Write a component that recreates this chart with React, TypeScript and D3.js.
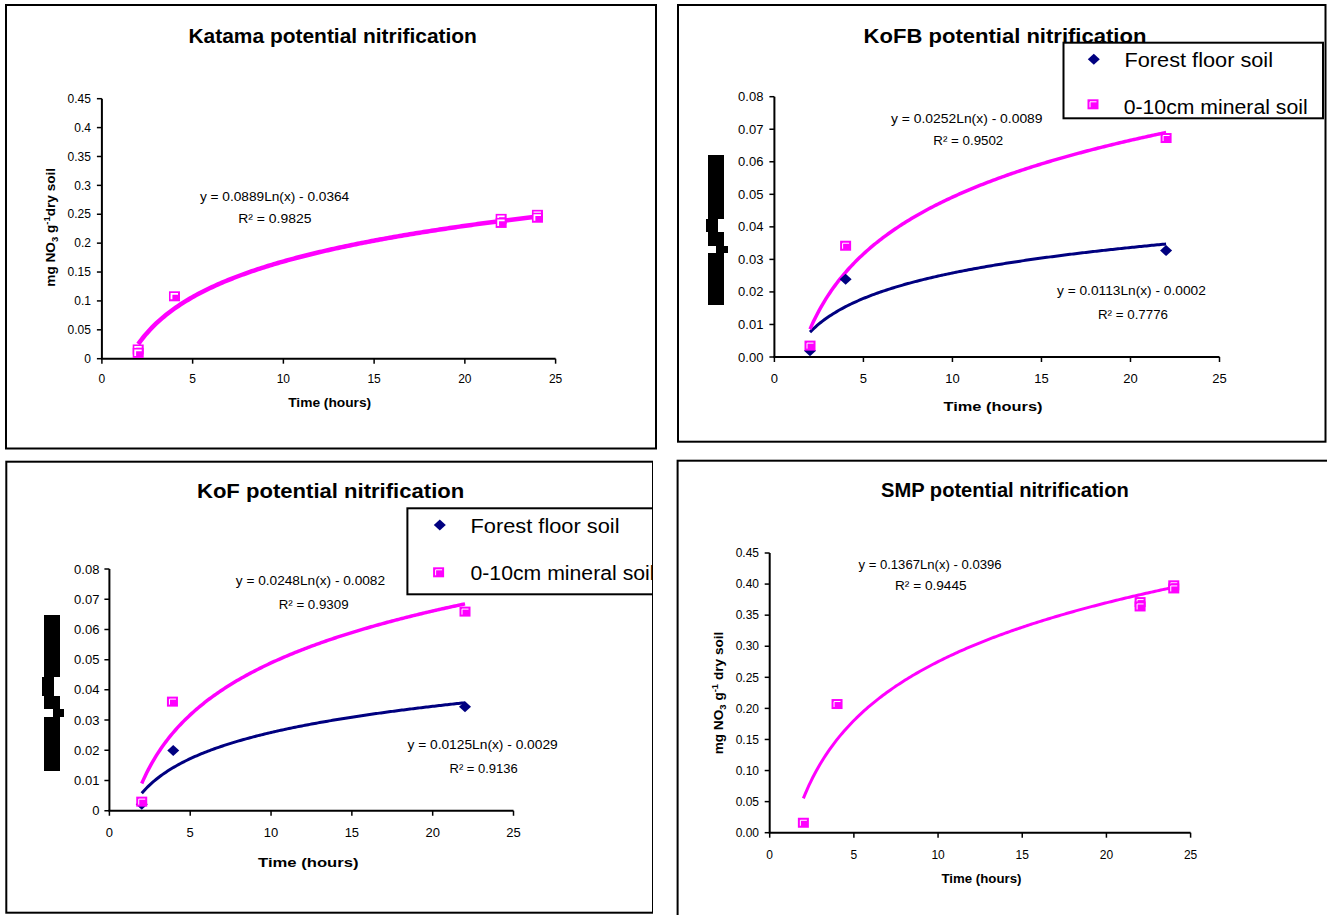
import React from 'react';
import * as d3 from 'd3';

// ---------------- data ----------------
const xTicks = [0, 5, 10, 15, 20, 25];
const xTickLabels = ['0', '5', '10', '15', '20', '25'];

const katamaHours = [2, 2, 4, 22, 22, 24, 24];
const katamaMineral = [0.016, 0.010, 0.108, 0.242, 0.235, 0.249, 0.244];
const katamaTrend = [0.0889, -0.0364];
const katamaYTicks = [0, 0.05, 0.1, 0.15, 0.2, 0.25, 0.3, 0.35, 0.4, 0.45];
const katamaYLabels = ['0', '0.05', '0.1', '0.15', '0.2', '0.25', '0.3', '0.35', '0.4', '0.45'];

const kofbHours = [2, 4, 22];
const kofbForest = [0.0019, 0.0239, 0.0327];
const kofbMineral = [0.0035, 0.0342, 0.0673];
const kofbForestTrend = [0.0113, -0.0002];
const kofbMineralTrend = [0.0252, -0.0089];
const smallYTicks = [0, 0.01, 0.02, 0.03, 0.04, 0.05, 0.06, 0.07, 0.08];
const kofbYLabels = ['0.00', '0.01', '0.02', '0.03', '0.04', '0.05', '0.06', '0.07', '0.08'];

const kofForestHours = [2, 3.95, 22];
const kofForest = [0.0021, 0.0199, 0.0344];
const kofMineralHours = [2, 3.9, 22];
const kofMineral = [0.0030, 0.0361, 0.0659];
const kofForestTrend = [0.0125, -0.0029];
const kofMineralTrend = [0.0248, -0.0082];
const kofYLabels = ['0', '0.01', '0.02', '0.03', '0.04', '0.05', '0.06', '0.07', '0.08'];

const smpHours = [2, 4, 22, 22, 24, 24];
const smpMineral = [0.016, 0.207, 0.371, 0.364, 0.398, 0.393];
const smpTrend = [0.1367, -0.0396];
const smpYTicks = [0, 0.05, 0.1, 0.15, 0.2, 0.25, 0.3, 0.35, 0.4, 0.45];
const smpYLabels = ['0.00', '0.05', '0.10', '0.15', '0.20', '0.25', '0.30', '0.35', '0.40', '0.45'];

const legendLabels = ['Forest floor soil', '0-10cm mineral soil'];

// ---------------- styling ----------------
const FONT = "'Liberation Sans', Arial, Helvetica, sans-serif";
const MAGENTA = '#FF00FF';
const NAVY = '#000080';

type Series = {
  xs: number[]; ys: number[]; marker: 'square' | 'diamond'; color: string;
  trend: number[]; from: number; to: number; width: number; innerW: number;
};
type Label = { t: string; cx: number; cy: number; len: number; fs: number };

type PanelCfg = {
  frame: { x: number; y: number; w: number; h: number };
  clip?: boolean;
  title: Label;
  plot: { left: number; right: number; top: number; bottom: number };
  yMax: number;
  yTicks: number[];
  yLabels: string[];
  tickFs: number;
  yLabelGap: number;
  xLabelDy: number;
  xTitle: Label;
  yTitle?: { cx: number; cy: number; len: number; fs: number; spaceBeforeDry: boolean };
  blob?: number[][];
  eq: Label[];
  legend?: { box: { x: number; y: number; w: number; h: number }; items: { mx: number; my: number; tx: number; ty: number; len: number }[] };
  series: Series[];
};

const eqFs = 13.5;

const panels: PanelCfg[] = [
  {
    frame: { x: 6, y: 5, w: 650, h: 443.5 },
    title: { t: 'Katama potential nitrification', cx: 332.7, cy: 36, len: 288.4, fs: 20 },
    plot: { left: 101.9, right: 555.6, top: 98.7, bottom: 358.7 },
    yMax: 0.45, yTicks: katamaYTicks, yLabels: katamaYLabels, tickFs: 12, yLabelGap: 11, xLabelDy: 20.3,
    xTitle: { t: 'Time (hours)', cx: 329.7, cy: 402.3, len: 83, fs: 13 },
    yTitle: { cx: 50.5, cy: 227.3, len: 118.7, fs: 12.5, spaceBeforeDry: false },
    eq: [
      { t: 'y = 0.0889Ln(x) - 0.0364', cx: 274.6, cy: 196.7, len: 149.3, fs: 12.5 },
      { t: 'R² = 0.9825', cx: 274.8, cy: 218.3, len: 73.2, fs: 12.5 },
    ],
    series: [
      { xs: katamaHours, ys: katamaMineral, marker: 'square', color: MAGENTA, trend: katamaTrend, from: 2, to: 24, width: 4.5, innerW: 1.8 },
    ],
  },
  {
    frame: { x: 678, y: 5, w: 647.5, h: 436.7 },
    title: { t: 'KoFB potential nitrification', cx: 1005, cy: 36, len: 282.8, fs: 20 },
    plot: { left: 774.4, right: 1219.5, top: 96.7, bottom: 357 },
    yMax: 0.08, yTicks: smallYTicks, yLabels: kofbYLabels, tickFs: 13, yLabelGap: 11, xLabelDy: 21,
    xTitle: { t: 'Time (hours)', cx: 993, cy: 406, len: 99, fs: 13 },
    blob: [[708, 155, 16, 64], [706, 219, 12, 13], [708, 232, 16, 14], [716, 246, 12, 7], [708, 253, 16, 52]],
    eq: [
      { t: 'y = 0.0252Ln(x) - 0.0089', cx: 966.8, cy: 118.3, len: 151.5, fs: eqFs },
      { t: 'R² = 0.9502', cx: 968.3, cy: 140, len: 69.9, fs: eqFs },
      { t: 'y = 0.0113Ln(x) - 0.0002', cx: 1131.4, cy: 290.7, len: 148.8, fs: eqFs },
      { t: 'R² = 0.7776', cx: 1133, cy: 314, len: 70, fs: eqFs },
    ],
    legend: {
      box: { x: 1063.5, y: 42.7, w: 259.5, h: 75.6 },
      items: [
        { mx: 1093.8, my: 59.3, tx: 1124.5, ty: 60, len: 148.5 },
        { mx: 1093, my: 104.3, tx: 1123.7, ty: 106.7, len: 184 },
      ],
    },
    series: [
      { xs: kofbHours, ys: kofbForest, marker: 'diamond', color: NAVY, trend: kofbForestTrend, from: 2, to: 22, width: 3, innerW: 1 },
      { xs: kofbHours, ys: kofbMineral, marker: 'square', color: MAGENTA, trend: kofbMineralTrend, from: 2, to: 22, width: 3.5, innerW: 1 },
    ],
  },
  {
    frame: { x: 6.3, y: 461.7, w: 646.7, h: 451 },
    clip: true,
    title: { t: 'KoF potential nitrification', cx: 330.6, cy: 491, len: 267.3, fs: 20 },
    plot: { left: 109.4, right: 513.5, top: 569, bottom: 810.7 },
    yMax: 0.08, yTicks: smallYTicks, yLabels: kofYLabels, tickFs: 13, yLabelGap: 10, xLabelDy: 21.6,
    xTitle: { t: 'Time (hours)', cx: 308.3, cy: 862.3, len: 100.6, fs: 13 },
    blob: [[44, 615, 16, 62], [42, 677, 12, 19], [44, 696, 16, 13], [53, 709, 11, 8], [44, 717, 16, 54]],
    eq: [
      { t: 'y = 0.0248Ln(x) - 0.0082', cx: 310.4, cy: 580.3, len: 149.3, fs: eqFs },
      { t: 'R² = 0.9309', cx: 313.6, cy: 604, len: 69.9, fs: eqFs },
      { t: 'y = 0.0125Ln(x) - 0.0029', cx: 482.6, cy: 744.3, len: 150.3, fs: eqFs },
      { t: 'R² = 0.9136', cx: 483.6, cy: 768.3, len: 68.2, fs: eqFs },
    ],
    legend: {
      box: { x: 407.4, y: 508.3, w: 245.6, h: 86 },
      items: [
        { mx: 439.8, my: 525, tx: 470.5, ty: 525.7, len: 149 },
        { mx: 438.6, my: 572.3, tx: 470.5, ty: 573.3, len: 184 },
      ],
    },
    series: [
      { xs: kofForestHours, ys: kofForest, marker: 'diamond', color: NAVY, trend: kofForestTrend, from: 2, to: 22, width: 3, innerW: 1 },
      { xs: kofMineralHours, ys: kofMineral, marker: 'square', color: MAGENTA, trend: kofMineralTrend, from: 2, to: 22, width: 3.5, innerW: 1 },
    ],
  },
  {
    frame: { x: 677.6, y: 460.7, w: 670, h: 470 },
    title: { t: 'SMP potential nitrification', cx: 1004.9, cy: 490, len: 247.7, fs: 20 },
    plot: { left: 769.7, right: 1190.6, top: 553, bottom: 832.7 },
    yMax: 0.45, yTicks: smpYTicks, yLabels: smpYLabels, tickFs: 12, yLabelGap: 10.7, xLabelDy: 21.6,
    xTitle: { t: 'Time (hours)', cx: 981.5, cy: 878.3, len: 80, fs: 12.5 },
    yTitle: { cx: 718.4, cy: 693, len: 122.7, fs: 12.5, spaceBeforeDry: true },
    eq: [
      { t: 'y = 0.1367Ln(x) - 0.0396', cx: 930, cy: 564.3, len: 143.1, fs: 12.5 },
      { t: 'R² = 0.9445', cx: 930.8, cy: 585.7, len: 71.7, fs: 12.5 },
    ],
    series: [
      { xs: smpHours, ys: smpMineral, marker: 'square', color: MAGENTA, trend: smpTrend, from: 2, to: 24, width: 3, innerW: 1 },
    ],
  },
];

function Marker({ kind, cx, cy, color, innerW }: { kind: 'square' | 'diamond'; cx: number; cy: number; color: string; innerW: number }) {
  if (kind === 'diamond') {
    const hw = 6, hh = 5.5;
    return <path d={`M${cx},${cy - hh}L${cx + hw},${cy}L${cx},${cy + hh}L${cx - hw},${cy}Z`} fill={color} />;
  }
  const w = 11, h = 10;
  const x0 = cx - w / 2, y0 = cy - h / 2;
  return (
    <g>
      <rect x={x0} y={y0} width={w} height={h} fill={color} />
      <path d={`M${x0 + 2.5},${y0 + h - 2}V${y0 + 2.5}H${x0 + w - 2}`} fill="none" stroke="#fff" strokeWidth={innerW} />
    </g>
  );
}

function TextL({ l, bold, anchor = 'middle', x }: { l: Label; bold?: boolean; anchor?: string; x?: number }) {
  return (
    <text x={x ?? l.cx} y={l.cy} dy="0.35em" textAnchor={anchor as any} fontSize={l.fs}
      fontWeight={bold ? 'bold' : 'normal'} fontFamily={FONT} textLength={l.len} lengthAdjust="spacingAndGlyphs" fill="#000">
      {l.t}
    </text>
  );
}

function Panel({ p, idx }: { p: PanelCfg; idx: number }) {
  const x = d3.scaleLinear().domain([0, 25]).range([p.plot.left, p.plot.right]);
  const y = d3.scaleLinear().domain([0, p.yMax]).range([p.plot.bottom, p.plot.top]);
  const line = d3.line<[number, number]>().x(d => x(d[0])).y(d => y(d[1]));
  const clipId = `clip${idx}`;
  const f = p.frame;
  return (
    <g clipPath={p.clip ? `url(#${clipId})` : undefined}>
      {p.clip && (
        <defs>
          <clipPath id={clipId}>
            <rect x={f.x - 2} y={f.y - 2} width={f.w + 2} height={f.h + 4} />
          </clipPath>
        </defs>
      )}
      <rect x={f.x} y={f.y} width={f.w} height={f.h} fill="#fff" stroke="#000" strokeWidth={2} />
      <TextL l={p.title} bold />
      {/* y axis */}
      <line x1={p.plot.left} x2={p.plot.left} y1={p.plot.top} y2={p.plot.bottom} stroke="#000" strokeWidth={2} />
      {p.yTicks.map((t, i) => (
        <g key={'y' + i}>
          <line x1={p.plot.left - 5} x2={p.plot.left} y1={y(t)} y2={y(t)} stroke="#000" strokeWidth={1.5} />
          <text x={p.plot.left - p.yLabelGap} y={y(t)} dy="0.35em" textAnchor="end" fontSize={p.tickFs} fontFamily={FONT} fill="#000">
            {p.yLabels[i]}
          </text>
        </g>
      ))}
      {/* x axis */}
      <line x1={p.plot.left - 1} x2={p.plot.right} y1={p.plot.bottom} y2={p.plot.bottom} stroke="#000" strokeWidth={2} />
      {xTicks.map((t, i) => (
        <g key={'x' + i}>
          <line x1={x(t)} x2={x(t)} y1={p.plot.bottom} y2={p.plot.bottom + 5} stroke="#000" strokeWidth={1.5} />
          <text x={x(t)} y={p.plot.bottom + p.xLabelDy} dy="0.35em" textAnchor="middle" fontSize={p.tickFs} fontFamily={FONT} fill="#000">
            {xTickLabels[i]}
          </text>
        </g>
      ))}
      <TextL l={p.xTitle} bold />
      {p.yTitle && (
        <text transform={`translate(${p.yTitle.cx},${p.yTitle.cy}) rotate(-90)`} dy="0.35em" textAnchor="middle"
          fontSize={p.yTitle.fs} fontWeight="bold" fontFamily={FONT} fill="#000"
          textLength={p.yTitle.len} lengthAdjust="spacingAndGlyphs">
          <tspan>mg NO</tspan>
          <tspan dy={3} fontSize={p.yTitle.fs * 0.7}>3</tspan>
          <tspan dy={-3}> g</tspan>
          <tspan dy={-5} fontSize={p.yTitle.fs * 0.7}>-1</tspan>
          <tspan dy={5}>{p.yTitle.spaceBeforeDry ? ' dry soil' : 'dry soil'}</tspan>
        </text>
      )}
      {p.blob && p.blob.map((r, i) => <rect key={'b' + i} x={r[0]} y={r[1]} width={r[2]} height={r[3]} fill="#000" />)}
      {/* trend lines */}
      {p.series.map((s, i) => {
        const pts: [number, number][] = d3.range(0, 201).map(k => {
          const xv = s.from + (s.to - s.from) * k / 200;
          return [xv, s.trend[0] * Math.log(xv) + s.trend[1]];
        });
        return <path key={'t' + i} d={line(pts) || ''} fill="none" stroke={s.color} strokeWidth={s.width} strokeLinejoin="round" />;
      })}
      {/* markers */}
      {p.series.map((s, i) => (
        <g key={'m' + i}>
          {s.xs.map((xv, j) => (
            <Marker key={j} kind={s.marker} cx={x(xv)} cy={y(s.ys[j])} color={s.color} innerW={s.innerW} />
          ))}
        </g>
      ))}
      {p.eq.map((l, i) => <TextL key={'e' + i} l={l} />)}
      {p.legend && (
        <g>
          <rect x={p.legend.box.x} y={p.legend.box.y} width={p.legend.box.w} height={p.legend.box.h} fill="#fff" stroke="#000" strokeWidth={2} />
          {p.legend.items.map((it, i) => {
            const s = p.series[i];
            return (
              <g key={'l' + i}>
                <Marker kind={s.marker} cx={it.mx} cy={it.my} color={s.color} innerW={1} />
                <text x={it.tx} y={it.ty} dy="0.35em" fontSize={19.5} fontFamily={FONT} fill="#000"
                  textLength={it.len} lengthAdjust="spacingAndGlyphs">
                  {legendLabels[i]}
                </text>
              </g>
            );
          })}
        </g>
      )}
    </g>
  );
}

export default function App() {
  return (
    <svg width={1327} height={915} style={{ position: 'absolute', left: 0, top: 0, background: '#fff' }}>
      <rect x={0} y={0} width={1327} height={915} fill="#fff" />
      {panels.map((p, i) => <Panel key={i} p={p} idx={i} />)}
    </svg>
  );
}
